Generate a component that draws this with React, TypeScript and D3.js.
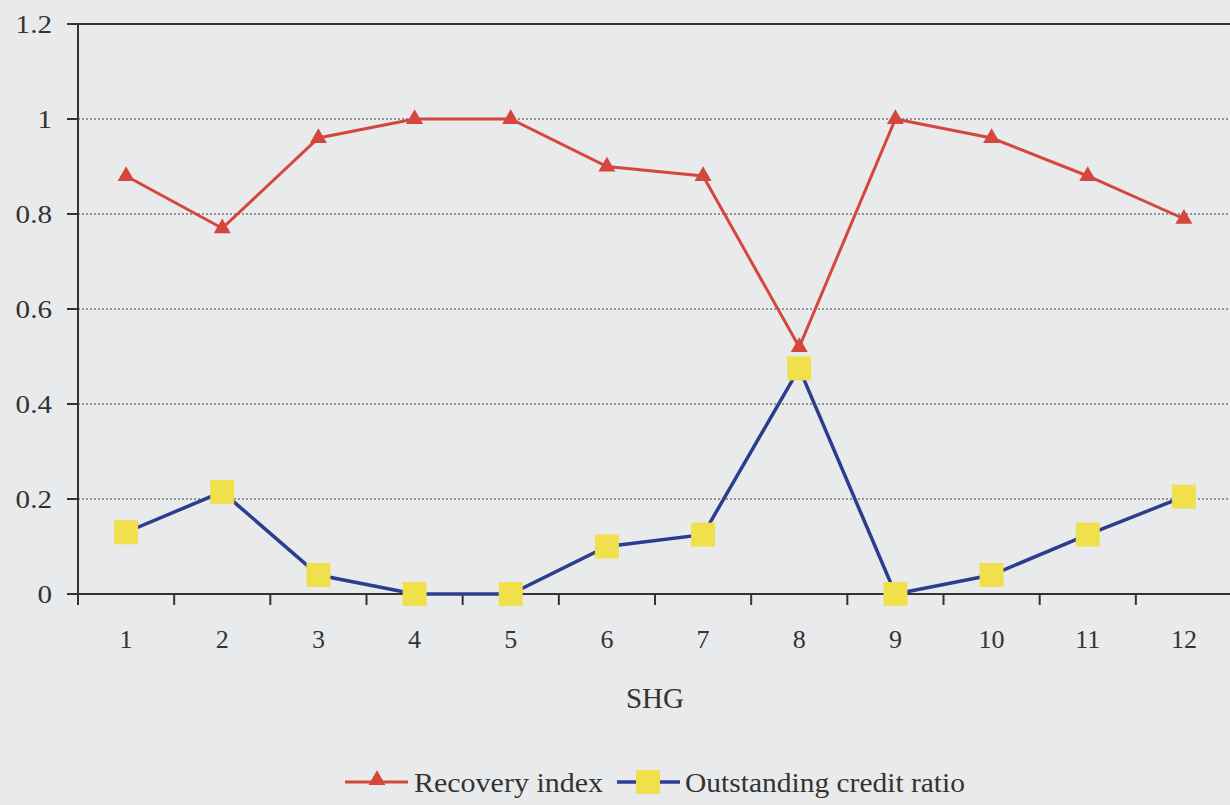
import React, { useEffect, useRef } from 'react';
import * as d3 from 'd3';

const groups = ['1', '2', '3', '4', '5', '6', '7', '8', '9', '10', '11', '12'];
const recoveryIndex = [0.88, 0.77, 0.96, 1.0, 1.0, 0.9, 0.88, 0.52, 1.0, 0.96, 0.88, 0.79];
const outstandingRatio = [0.13, 0.215, 0.04, 0, 0, 0.1, 0.125, 0.475, 0, 0.04, 0.125, 0.205];
const yTicks = [0, 0.2, 0.4, 0.6, 0.8, 1, 1.2];

const W = 1230;
const H = 805;
const RED = '#d5473c';
const BLUE = '#2c3d8e';
const YELLOW = '#efe04c';
const INK = '#333';
const FONT = '"Liberation Serif", "DejaVu Serif", serif';

const App: React.FC = () => {
  const svgRef = useRef<SVGSVGElement | null>(null);

  useEffect(() => {
    const svg = d3.select(svgRef.current);
    svg.selectAll('*').remove();

    const left = 78;
    const right = 1232;
    const top = 24;
    const bottom = 594;

    const x = d3.scaleBand<string>().domain(groups).range([left, right]);
    const y = d3.scaleLinear().domain([0, 1.2]).range([bottom, top]);
    const cx = (g: string) => (x(g) as number) + x.bandwidth() / 2;

    svg.append('rect').attr('width', W).attr('height', H).attr('fill', '#e9eaec');

    // dotted gridlines
    svg.append('g')
      .selectAll('line')
      .data(yTicks.filter((t) => t > 0 && t < 1.2))
      .enter()
      .append('line')
      .attr('x1', left)
      .attr('x2', right)
      .attr('y1', (d) => y(d))
      .attr('y2', (d) => y(d))
      .attr('stroke', '#777')
      .attr('stroke-width', 1.3)
      .attr('stroke-dasharray', '2,2');

    // top border
    svg.append('line')
      .attr('x1', left - 10).attr('x2', right)
      .attr('y1', y(1.2)).attr('y2', y(1.2))
      .attr('stroke', INK).attr('stroke-width', 2.2);

    // y axis
    svg.append('line')
      .attr('x1', left).attr('x2', left)
      .attr('y1', top).attr('y2', bottom + 11)
      .attr('stroke', INK).attr('stroke-width', 2);
    const yt = svg.append('g').selectAll('g')
      .data(yTicks)
      .enter()
      .append('g')
      .attr('transform', (d) => `translate(0,${y(d)})`);
    yt.append('line')
      .attr('x1', left - 11).attr('x2', left)
      .attr('stroke', INK).attr('stroke-width', 2);
    yt.append('text')
      .attr('transform', 'translate(52,9) scale(1.12,1)')
      .attr('text-anchor', 'end')
      .attr('font-family', FONT).attr('font-size', 26).attr('fill', INK)
      .text((d) => String(d));

    // x axis
    svg.append('line')
      .attr('x1', left - 11).attr('x2', right)
      .attr('y1', bottom).attr('y2', bottom)
      .attr('stroke', INK).attr('stroke-width', 2);
    svg.append('g').selectAll('line')
      .data(d3.range(1, groups.length + 1))
      .enter()
      .append('line')
      .attr('x1', (i) => left + i * x.bandwidth())
      .attr('x2', (i) => left + i * x.bandwidth())
      .attr('y1', bottom)
      .attr('y2', bottom + 11)
      .attr('stroke', INK)
      .attr('stroke-width', 2);
    svg.append('g').selectAll('text')
      .data(groups)
      .enter()
      .append('text')
      .attr('x', (d) => cx(d))
      .attr('y', 648)
      .attr('text-anchor', 'middle')
      .attr('font-family', FONT).attr('font-size', 26).attr('fill', INK)
      .text((d) => d);

    svg.append('text')
      .attr('x', (left + right) / 2).attr('y', 708)
      .attr('text-anchor', 'middle')
      .attr('font-family', FONT).attr('font-size', 29).attr('fill', INK)
      .text('SHG');

    const line = d3.line<number>().x((_, i) => cx(groups[i])).y((d) => y(d));
    const tri = d3.symbol().type(d3.symbolTriangle).size(125);

    svg.append('path').datum(recoveryIndex)
      .attr('d', line).attr('fill', 'none').attr('stroke', RED).attr('stroke-width', 3);
    svg.append('path').datum(outstandingRatio)
      .attr('d', line).attr('fill', 'none').attr('stroke', BLUE).attr('stroke-width', 3.5);

    svg.append('g').selectAll('path')
      .data(recoveryIndex)
      .enter()
      .append('path')
      .attr('d', tri)
      .attr('transform', (d, i) => `translate(${cx(groups[i])},${y(d)})`)
      .attr('fill', RED);

    svg.append('g').selectAll('rect')
      .data(outstandingRatio)
      .enter()
      .append('rect')
      .attr('x', (_, i) => cx(groups[i]) - 12)
      .attr('y', (d) => y(d) - 12)
      .attr('width', 24)
      .attr('height', 24)
      .attr('fill', YELLOW);

    // legend
    const lg = svg.append('g').attr('transform', 'translate(0,782)');
    lg.append('line').attr('x1', 345).attr('x2', 408).attr('y1', 0).attr('y2', 0)
      .attr('stroke', RED).attr('stroke-width', 3);
    lg.append('path').attr('d', tri).attr('transform', 'translate(377,-2)').attr('fill', RED);
    lg.append('text').attr('x', 414).attr('y', 10)
      .attr('font-family', FONT).attr('font-size', 28).attr('fill', INK)
      .attr('textLength', 189).attr('lengthAdjust', 'spacingAndGlyphs')
      .text('Recovery index');
    lg.append('line').attr('x1', 617).attr('x2', 680).attr('y1', 0).attr('y2', 0)
      .attr('stroke', BLUE).attr('stroke-width', 3.5);
    lg.append('rect').attr('x', 636).attr('y', -12).attr('width', 24).attr('height', 24).attr('fill', YELLOW);
    lg.append('text').attr('x', 685).attr('y', 10)
      .attr('font-family', FONT).attr('font-size', 28).attr('fill', INK)
      .attr('textLength', 280).attr('lengthAdjust', 'spacingAndGlyphs')
      .text('Outstanding credit ratio');
  }, []);

  return (
    <svg
      ref={svgRef}
      width={W}
      height={H}
      style={{ position: 'absolute', left: 0, top: 0, display: 'block' }}
    />
  );
};

export default App;
